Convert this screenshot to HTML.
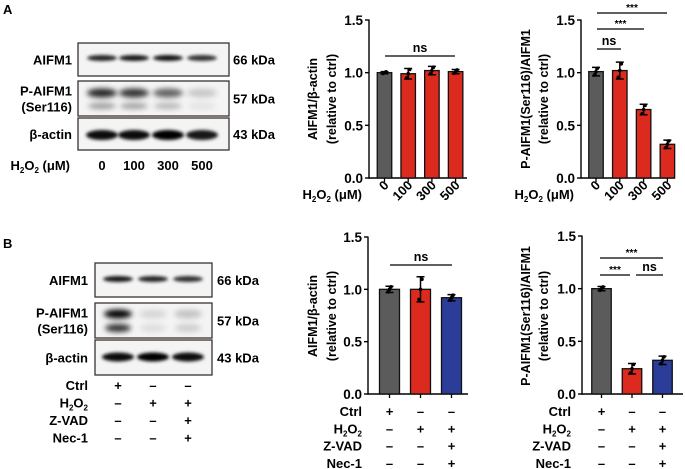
<!DOCTYPE html>
<html><head><meta charset="utf-8">
<style>
html,body{margin:0;padding:0;background:#fff;}
svg{display:block;font-family:"Liberation Sans",Arial,sans-serif;font-weight:bold;}
</style></head>
<body>
<svg id="fig" width="685" height="469" viewBox="0 0 685 469" xmlns="http://www.w3.org/2000/svg">
<defs>
<filter id="blur1" x="-20%" y="-100%" width="140%" height="300%"><feGaussianBlur stdDeviation="1.6"/></filter>
<filter id="blur2" x="-20%" y="-100%" width="140%" height="300%"><feGaussianBlur stdDeviation="2.6"/></filter>
</defs>
<text x="3" y="14" font-size="13">A</text>
<text x="3" y="248" font-size="13">B</text>
<g id="blots"></g>
<g id="charts"></g>
</svg>
<script>
// ---------- chart data ----------
const aCategories = ["0","100","300","500"];
const a1Values = [1.00, 0.99, 1.02, 1.01];
const a1Errors = [0.01, 0.05, 0.04, 0.02];
const a2Values = [1.01, 1.02, 0.65, 0.32];
const a2Errors = [0.04, 0.08, 0.05, 0.04];
const bCategories = ["Ctrl","H2O2","H2O2+Z-VAD+Nec-1"];
const b1Values = [1.00, 1.00, 0.92];
const b1Errors = [0.03, 0.12, 0.03];
const b2Values = [1.00, 0.24, 0.32];
const b2Errors = [0.02, 0.05, 0.04];
const yTicks = [0.0, 0.5, 1.0, 1.5];
const yTickLabels = ["0.0","0.5","1.0","1.5"];
const bRowLabels = ["Ctrl","H2O2","Z-VAD","Nec-1"];
const bRowSigns = [["+","–","–"],["–","+","+"],["–","–","+"],["–","–","+"]];

const NS = "http://www.w3.org/2000/svg";
function mk(tag, attrs, parent, txt){
  const e=document.createElementNS(NS,tag);
  for(const k in attrs) e.setAttribute(k,attrs[k]);
  if(txt!==undefined) e.textContent=txt;
  parent.appendChild(e); return e;
}
const charts=document.getElementById('charts');
const blots=document.getElementById('blots');
const GRAY="#5b5b5b", RED="#dc2a1e", BLUE="#2b3c99";

function yTitle(g, x1, x2, cy, l1, l2){
  const t1=mk('text',{x:0,y:0,'font-size':12.5,'text-anchor':'middle',transform:`translate(${x1+4},${cy}) rotate(-90)`},g,l1);
  
  
  const t2=mk('text',{x:0,y:0,'font-size':12.5,'text-anchor':'middle',transform:`translate(${x2+4},${cy}) rotate(-90)`},g,l2);
  
  
}

function drawChart(cfg){
  const g=mk('g',{},charts);
  
  
  const y=v=>cfg.y0-(v/1.5)*(cfg.y0-cfg.y15);
  const x=i=>cfg.c0+i*cfg.step;
  const ax=mk('line',{x1:cfg.ax,y1:y(1.5)-0.5,x2:cfg.ax,y2:cfg.y0+0.8,stroke:'#000','stroke-width':1.4},g);
  
  
  const xx=mk('line',{x1:cfg.ax,y1:cfg.y0,x2:cfg.axEnd,y2:cfg.y0,stroke:'#000','stroke-width':1.4},g);
  
  
  yTicks.forEach((t,i)=>{
    mk('line',{x1:cfg.ax-4,y1:y(t),x2:cfg.ax,y2:y(t),stroke:'#000','stroke-width':1.4},g);
    const tl=mk('text',{x:cfg.ax-6,y:y(t)+5,'font-size':13.5,'text-anchor':'end'},g,yTickLabels[i]);
    
    
  });
  cfg.values.forEach((v,i)=>{
    const cx=x(i);
    const b=mk('rect',{x:cx-cfg.bw/2,y:y(v),width:cfg.bw,height:cfg.y0-y(v),fill:cfg.colors[i],stroke:'#111','stroke-width':1.3},g);
    
    
    const e=cfg.errors[i];
    const eb=mk('path',{d:`M${cx},${y(v-e)}V${y(v+e)}M${cx-4},${y(v+e)}H${cx+4}M${cx-4},${y(v-e)}H${cx+4}`,stroke:'#000','stroke-width':1.5,fill:'none'},g);
    
    
    const pts=[v-e*0.8,v,v+e*0.8];
    pts.forEach((p,j)=>{
      const dt=mk('circle',{cx:cx+(j-1)*1.5,cy:y(p),r:1.8,fill:'#000'},g);
      
      
    });
    mk('line',{x1:cx,y1:cfg.y0,x2:cx,y2:cfg.y0+4,stroke:'#000','stroke-width':1.3},g);
  });
  cfg.sig.forEach(s=>{
    const l=mk('line',{x1:s[0],y1:s[2],x2:s[1],y2:s[2],stroke:'#000','stroke-width':1.2},g);
    
    
    const t=mk('text',{x:(s[0]+s[1])/2,y:s[2]-(s[3]==='ns'?4:2),'font-size':s[3]==='ns'?12.5:10,'text-anchor':'middle'},g,s[3]);
    
    
  });
  return {g,x,y};
}

// A1
let c=drawChart({name:'chart-a-aifm1',ax:369,axEnd:467,y0:178,y15:20,c0:384.5,step:23.7,bw:14.5,values:a1Values,errors:a1Errors,colors:[GRAY,RED,RED,RED],sig:[[385,455,56,'ns']]});
yTitle(c.g,313,332,99,'AIFM1/β-actin','(relative to ctrl)');
aCategories.forEach((t,i)=>{const tx=mk('text',{x:0,y:0,'font-size':13,'text-anchor':'end',transform:`translate(${c.x(i)+5},${186}) rotate(-45)`},c.g,t);

});
let hl=mk('text',{x:362,y:199,'font-size':13,'text-anchor':'end'},c.g);
hl.innerHTML='H<tspan font-size="8" dy="3">2</tspan><tspan dy="-3">O</tspan><tspan font-size="8" dy="3">2</tspan><tspan dy="-3"> (μM)</tspan>';



// A2
c=drawChart({name:'chart-a-p-aifm1',ax:581,axEnd:675,y0:178,y15:20,c0:596,step:23.8,bw:14.5,values:a2Values,errors:a2Errors,colors:[GRAY,RED,RED,RED],sig:[[597,621,49,'ns'],[597,644,29,'***'],[597,667,13,'***']]});
yTitle(c.g,526,544,99,'P-AIFM1(Ser116)/AIFM1','(relative to ctrl)');
aCategories.forEach((t,i)=>{const tx=mk('text',{x:0,y:0,'font-size':13,'text-anchor':'end',transform:`translate(${c.x(i)+5},${186}) rotate(-45)`},c.g,t);

});
hl=mk('text',{x:574,y:199,'font-size':13,'text-anchor':'end'},c.g);
hl.innerHTML='H<tspan font-size="8" dy="3">2</tspan><tspan dy="-3">O</tspan><tspan font-size="8" dy="3">2</tspan><tspan dy="-3"> (μM)</tspan>';



function bRows(g,xs,right){
  bRowLabels.forEach((lab,r)=>{
    const yy=416+r*17.3;
    const t=mk('text',{x:right,y:yy,'font-size':13,'text-anchor':'end'},g);
    if(lab==='H2O2') t.innerHTML='H<tspan font-size="8" dy="3">2</tspan><tspan dy="-3">O</tspan><tspan font-size="8" dy="3">2</tspan>';
    else t.textContent=lab;
    
    
    xs.forEach((xv,i)=>{
      const s=mk('text',{x:xv,y:yy,'font-size':13,'text-anchor':'middle'},g,bRowSigns[r][i]);
      
      
    });
  });
}
// B1
c=drawChart({name:'chart-b-aifm1',ax:368,axEnd:468,y0:394,y15:237,c0:389.5,step:31,bw:20,values:b1Values,errors:b1Errors,colors:[GRAY,RED,BLUE],sig:[[390,452,265,'ns']]});
yTitle(c.g,313,332,316,'AIFM1/β-actin','(relative to ctrl)');
bRows(c.g,[0,1,2].map(c.x),362);
// B2
c=drawChart({name:'chart-b-p-aifm1',ax:582,axEnd:683,y0:394,y15:236,c0:601.5,step:30.5,bw:19.5,values:b2Values,errors:b2Errors,colors:[GRAY,RED,BLUE],sig:[[600,663,258,'***'],[600,630,275,'***'],[636,663,275,'ns']]});
yTitle(c.g,526,544,316,'P-AIFM1(Ser116)/AIFM1','(relative to ctrl)');
bRows(c.g,[0,1,2].map(c.x),571);

// ---------- blots ----------
const blotA={x:78,w:151,boxes:[[43,33],[81,35],[118,32]],lanes:[102,134,168,202]};
const blotB={x:95,w:117,boxes:[[263,34],[303,35],[340,35]],lanes:[118,153,188]};
const labelsA=["AIFM1","P-AIFM1|(Ser116)","β-actin"];
const kda=["66 kDa","57 kDa","43 kDa"];
function band(g,cx,cy,w,h,op,f){
  const e=mk('ellipse',{cx:cx,cy:cy,rx:w/2,ry:h/2,fill:'#000','fill-opacity':op,filter:`url(#${f||'blur1'})`},g);
  
  
}
function drawBlot(b,name,bands,labRight,kdaX){
  const g=mk('g',{},blots);
  
  
  b.boxes.forEach((bx,i)=>{
    const r=mk('rect',{x:b.x,y:bx[0],width:b.w,height:bx[1],fill:'#f4f4f4',stroke:'#3a3330','stroke-width':1.3},g);
    
    
    const cy=bx[0]+bx[1]/2;
    const parts=labelsA[i].split('|');
    parts.forEach((p,j)=>{
      const t=mk('text',{x:labRight,y:cy+5+(parts.length>1?(j-0.5)*16:0),'font-size':13,'text-anchor':'end'},g,p);
      
      
    });
    const k=mk('text',{x:kdaX,y:cy+5,'font-size':13},g,kda[i]);
    
    
  });
  bands(g);
}
drawBlot(blotA,'western-blot-a',g=>{
  const L=blotA.lanes,B=blotA.boxes;
  [0.85,0.9,0.92,0.8].forEach((o,i)=>band(g,L[i],B[0][0]+15,30,6,o));
  [0.85,0.8,0.6,0.18].forEach((o,i)=>{band(g,L[i],B[1][0]+12,30,9,o,'blur2');band(g,L[i],B[1][0]+25,28,6,o*0.45,'blur2');});
  [0.95,0.95,1,0.9].forEach((o,i)=>band(g,L[i],B[2][0]+17,32,10,o));
},72,233);
drawBlot(blotB,'western-blot-b',g=>{
  const L=blotB.lanes,B=blotB.boxes;
  [0.9,0.85,0.8].forEach((o,i)=>band(g,L[i],B[0][0]+16,30,6,o));
  [1,0.12,0.2].forEach((o,i)=>{band(g,L[i],B[1][0]+11,28,9,o,'blur2');band(g,L[i],B[1][0]+25,26,8,o*0.8,'blur2');});
  [0.95,1,0.95].forEach((o,i)=>band(g,L[i],B[2][0]+17,32,9,o));
},88,217);
const ga=mk('g',{},blots);
aCategories.forEach((t,i)=>{const e=mk('text',{x:blotA.lanes[i],y:170,'font-size':13,'text-anchor':'middle'},ga,t);

});
let h=mk('text',{x:70,y:170,'font-size':13,'text-anchor':'end'},ga);
h.innerHTML='H<tspan font-size="8" dy="3">2</tspan><tspan dy="-3">O</tspan><tspan font-size="8" dy="3">2</tspan><tspan dy="-3"> (μM)</tspan>';


const gb=mk('g',{},blots);
bRowLabels.forEach((lab,r)=>{
  const yy=390+r*17.5;
  const t=mk('text',{x:88,y:yy,'font-size':13,'text-anchor':'end'},gb);
  if(lab==='H2O2') t.innerHTML='H<tspan font-size="8" dy="3">2</tspan><tspan dy="-3">O</tspan><tspan font-size="8" dy="3">2</tspan>';
  else t.textContent=lab;
  
  
  blotB.lanes.forEach((xv,i)=>{
    const s=mk('text',{x:xv,y:yy,'font-size':13,'text-anchor':'middle'},gb,bRowSigns[r][i]);
    
    
  });
});
</script>
</body></html>
